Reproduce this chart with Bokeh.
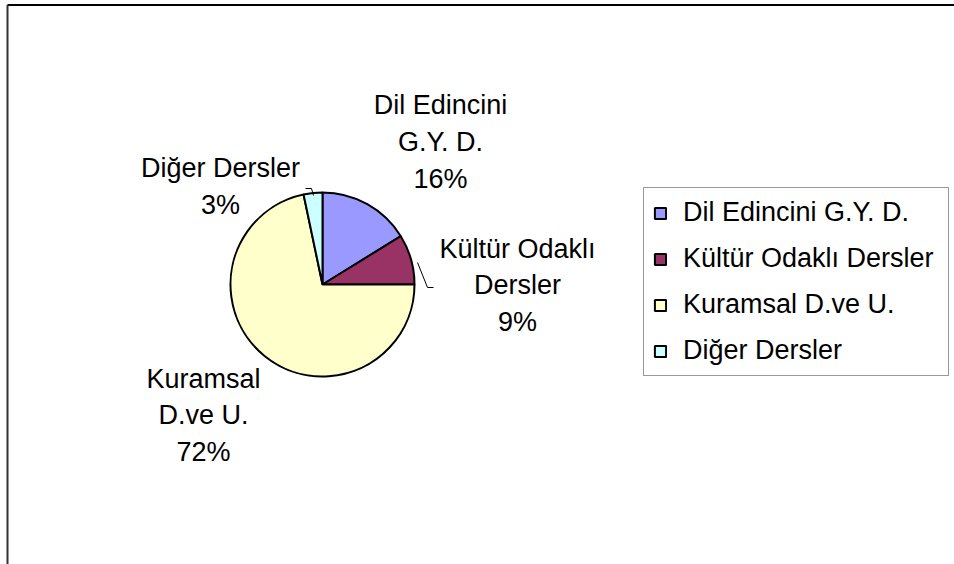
import numpy as np
from bokeh.plotting import figure
from bokeh.models import ColumnDataSource, Range1d, Legend, LegendItem
from bokeh.core.properties import value
from bokeh.embed import file_html
from bokeh.resources import INLINE

# ---- data ----
categories = ["Dil Edincini G.Y. D.", "Kültür Odaklı Dersler", "Kuramsal D.ve U.", "Diğer Dersler"]
label_names = ["Dil Edincini\nG.Y. D.", "Kültür Odaklı\nDersler", "Kuramsal\nD.ve U.", "Diğer Dersler"]
shares = [16.2, 8.8, 71.7, 3.3]
colors = ["#9999FF", "#993366", "#FFFFCC", "#CCFFFF"]

# ---- layout (page pixel coordinates) ----
W, H = 954, 564
def Y(py):
    return H - py

cx, cy, radius = 322, Y(284), 92
label_x = [440, 517, 203, 220]
label_y = [Y(141.5), Y(285), Y(415), Y(186)]

p = figure(width=W, height=H, x_range=Range1d(0, W), y_range=Range1d(0, H),
           output_backend="svg", toolbar_location=None,
           x_axis_type=None, y_axis_type=None, min_border=0,
           outline_line_color=None, background_fill_color="white")
p.grid.visible = False

frac = np.array(shares) / np.sum(shares)
cum = np.concatenate([[0.0], np.cumsum(frac)])
start = np.pi / 2 - 2 * np.pi * cum[:-1]
end = np.pi / 2 - 2 * np.pi * cum[1:]

src = ColumnDataSource(dict(x=[cx] * 4, y=[cy] * 4, start=start, end=end,
                            color=colors, cat=categories))
r = p.wedge(x="x", y="y", radius=radius, start_angle="start", end_angle="end",
            direction="clock", fill_color="color", line_color="black",
            line_width=2, source=src)

# labels
texts = [f"{n}\n{round(v)}%" for n, v in zip(label_names, shares)]
p.text(x=label_x, y=label_y, text=texts, text_align="center", text_baseline="middle",
       text_font=value("Liberation Sans"), text_font_size="27px",
       text_line_height=1.23, text_color="black")

# leader lines
p.multi_line(xs=[[305, 311, 313], [417, 427, 433]],
             ys=[[Y(188), Y(188), Y(195)], [Y(262), Y(287), Y(287)]],
             line_color="black", line_width=1)

# chart border (top and left visible)
p.line(x=[7, W], y=[Y(4.5), Y(4.5)], line_color="black", line_width=2)
p.line(x=[7, 7], y=[0, Y(4.5)], line_color="#333333", line_width=2)

items = [LegendItem(label=c, renderers=[r], index=i) for i, c in enumerate(categories)]
legend = Legend(items=items, location=(643, 188), orientation="vertical",
                label_text_font="Liberation Sans", label_text_font_size="27px",
                label_text_color="black",
                glyph_width=14, glyph_height=14, label_standoff=16,
                spacing=15, padding=9, margin=0, label_width=256, label_height=29,
                border_line_color="#333333", border_line_width=1,
                background_fill_color="white", background_fill_alpha=1)
p.add_layout(legend)

open("out.html", "w", encoding="utf-8").write(file_html(p, INLINE))
